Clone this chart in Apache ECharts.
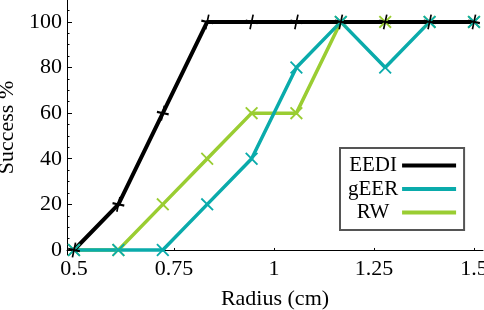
<!DOCTYPE html>
<html>
<head>
<meta charset="utf-8">
<script src="https://cdn.jsdelivr.net/npm/echarts@6/dist/echarts.min.js"></script>
<style>
html,body{margin:0;padding:0;background:#fff;}
#chart{width:484px;height:310px;}
</style>
</head>
<body>
<div id="chart"></div>
<script>
var radius = [0.5, 0.611, 0.722, 0.833, 0.944, 1.056, 1.167, 1.278, 1.389, 1.5];
var eedi = [0, 20, 60, 100, 100, 100, 100, 100, 100, 100];
var geer = [0, 0, 0, 20, 40, 80, 100, 80, 100, 100];
var rw   = [0, 0, 20, 40, 60, 60, 100, 100, 100, 100];
var xTicks = [0.5, 0.75, 1, 1.25, 1.5];
var yTicks = [0, 20, 40, 60, 80, 100];
var yMinorTicks = [5, 10, 15, 25, 30, 35, 45, 50, 55, 65, 70, 75, 85, 90, 95, 105];

function pairs(ys) { return radius.map(function (x, i) { return [x, ys[i]]; }); }

var FONT = 'Liberation Serif';
var cEEDI = '#000000', cGEER = '#0aabab', cRW = '#9acd32';
var crossPath = 'path://M0,1L1,0L5,4L9,0L10,1L6,5L10,9L9,10L5,6L1,10L0,9L4,5Z';
var plusPath = 'path://M4.3,0H5.7V4.3H10V5.7H5.7V10H4.3V5.7H0V4.3H4.3Z';

var chart = echarts.init(document.getElementById('chart'), null, {renderer: 'canvas'});
chart.setOption({
  animation: false,
  backgroundColor: '#fff',
  textStyle: {fontFamily: FONT},
  grid: {left: 67, top: 0, right: 1, bottom: 55, containLabel: false, outerBoundsMode: 'none'},
  xAxis: {
    type: 'value', min: 0.4825, max: 1.5225,
    name: 'Radius (cm)', nameLocation: 'middle', nameGap: 33,
    nameTextStyle: {fontFamily: FONT, fontSize: 22, color: '#000'},
    axisLine: {lineStyle: {color: '#000', width: 1}},
    axisTick: {inside: true, length: 2, customValues: xTicks, lineStyle: {color: '#000'}},
    axisLabel: {customValues: xTicks, fontFamily: FONT, fontSize: 22, color: '#000', margin: 3},
    splitLine: {show: false}
  },
  yAxis: [{
    type: 'value', min: -2.2, max: 109.6,
    name: 'Success %', nameLocation: 'middle', nameGap: 44, nameRotate: 90,
    nameTextStyle: {fontFamily: FONT, fontSize: 22, color: '#000'},
    axisLine: {show: true, lineStyle: {color: '#000', width: 1}},
    axisTick: {show: true, inside: true, length: 5, customValues: yTicks, lineStyle: {color: '#000'}},
    axisLabel: {customValues: yTicks, fontFamily: FONT, fontSize: 22, color: '#000', margin: 5},
    splitLine: {show: false}
  }, {
    type: 'value', min: -2.2, max: 109.6, position: 'left', offset: 0,
    axisLine: {show: false},
    axisTick: {show: true, inside: true, length: 2.5, customValues: yMinorTicks, lineStyle: {color: '#000'}},
    axisLabel: {show: false},
    splitLine: {show: false}
  }],
  legend: {
    data: ['EEDI', 'gEER', 'RW'],
    orient: 'vertical', left: 340, top: 148,
    align: 'right', icon: 'rect', itemWidth: 54, itemHeight: 4, itemGap: 2.5,
    padding: [7, 8, 7, 8],
    borderColor: '#555', borderWidth: 2, backgroundColor: '#fff',
    formatter: '{a|{name}}',
    textStyle: {
      fontFamily: FONT, fontSize: 21, color: '#000',
      rich: {a: {width: 48, align: 'center', fontFamily: FONT, fontSize: 21, color: '#000', lineHeight: 22}}
    }
  },
  series: [
    {name: 'RW', type: 'line', data: pairs(rw), color: cRW, showSymbol: false, z: 2,
     lineStyle: {width: 3.5, color: cRW}},
    {name: 'gEER', type: 'line', data: pairs(geer), color: cGEER, showSymbol: false, z: 3,
     lineStyle: {width: 3.5, color: cGEER}},
    {name: 'EEDI', type: 'line', data: pairs(eedi), color: cEEDI, showSymbol: false, z: 4,
     lineStyle: {width: 4, color: cEEDI}},
    {name: 'RW markers', type: 'scatter', data: pairs(rw), symbol: crossPath, symbolSize: 13, z: 5,
     itemStyle: {color: cRW, opacity: 1}},
    {name: 'gEER markers', type: 'scatter', data: pairs(geer), symbol: crossPath, symbolSize: 13, z: 6,
     itemStyle: {color: cGEER, opacity: 1}},
    {name: 'EEDI markers', type: 'scatter', data: pairs(eedi), symbol: plusPath, symbolSize: [12, 15], symbolRotate: -12, z: 7,
     itemStyle: {color: cEEDI, opacity: 1}}
  ]
});
</script>
</body>
</html>
